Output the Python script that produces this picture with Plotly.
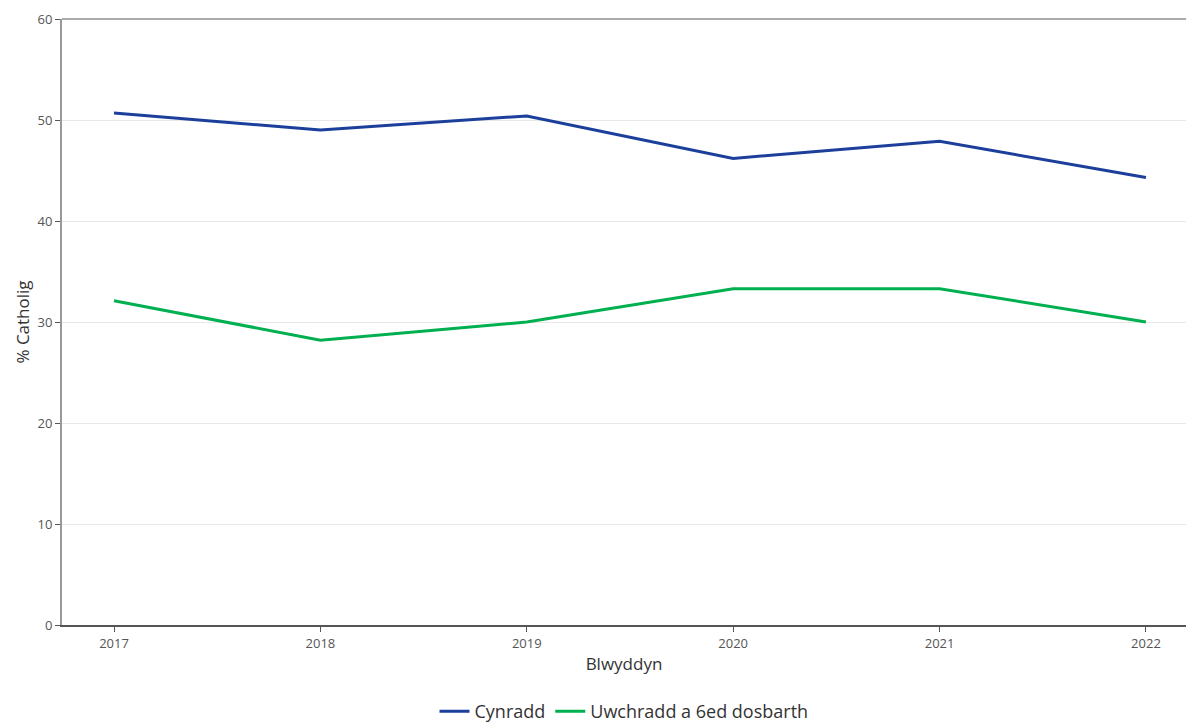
import plotly.graph_objects as go

years = [2017, 2018, 2019, 2020, 2021, 2022]
cynradd = [50.7, 49.0, 50.4, 46.2, 47.9, 44.3]
uwchradd = [32.1, 28.2, 30.0, 33.3, 33.3, 30.0]
series_names = ["Cynradd", "Uwchradd a 6ed dosbarth"]
y_ticks = [0, 10, 20, 30, 40, 50, 60]

FONT = "Open Sans, Segoe UI, sans-serif"

fig = go.Figure()
fig.add_trace(go.Scatter(x=years, y=cynradd, mode="lines", name=series_names[0],
                         line=dict(color="#1B3F9B", width=3)))
fig.add_trace(go.Scatter(x=years, y=uwchradd, mode="lines", name=series_names[1],
                         line=dict(color="#00B050", width=3)))

fig.update_layout(
    width=1186, height=727,
    margin=dict(l=62, r=0, t=19, b=102, autoexpand=False),
    paper_bgcolor="white", plot_bgcolor="white",
    font=dict(family=FONT, color="#444"),
    showlegend=True,
    legend=dict(orientation="h", x=0.5, xanchor="center", y=-0.143, yanchor="middle",
                font=dict(size=18, color="#333"), itemwidth=30),
    xaxis=dict(
        range=[2016.748, 2022.194], tickvals=years, ticktext=[str(y) for y in years],
        showgrid=False, zeroline=False, automargin=False,
        showline=True, linecolor="#555", linewidth=2,
        ticks="outside", ticklen=5, tickcolor="#555", tickwidth=1,
        tickfont=dict(size=13, color="#555"),
        title=dict(text="Blwyddyn", font=dict(size=17, color="#333"), standoff=8),
    ),
    yaxis=dict(
        range=[0, 60], tickvals=y_ticks,
        showgrid=True, gridcolor="#E8E8E8", gridwidth=1, zeroline=False, automargin=False,
        showline=True, linecolor="#999", linewidth=2,
        ticks="outside", ticklen=5, tickcolor="#555", tickwidth=1,
        tickfont=dict(size=13, color="#555"),
        title=dict(text="% Catholig", font=dict(size=17, color="#333"), standoff=4),
    ),
)
fig.add_shape(type="line", xref="paper", yref="paper", x0=0, x1=1, y0=1, y1=1,
              line=dict(color="#AAAAAA", width=2))

fig.write_html("out.html", config={"displayModeBar": False},
               post_script="document.body.style.margin='0';")
